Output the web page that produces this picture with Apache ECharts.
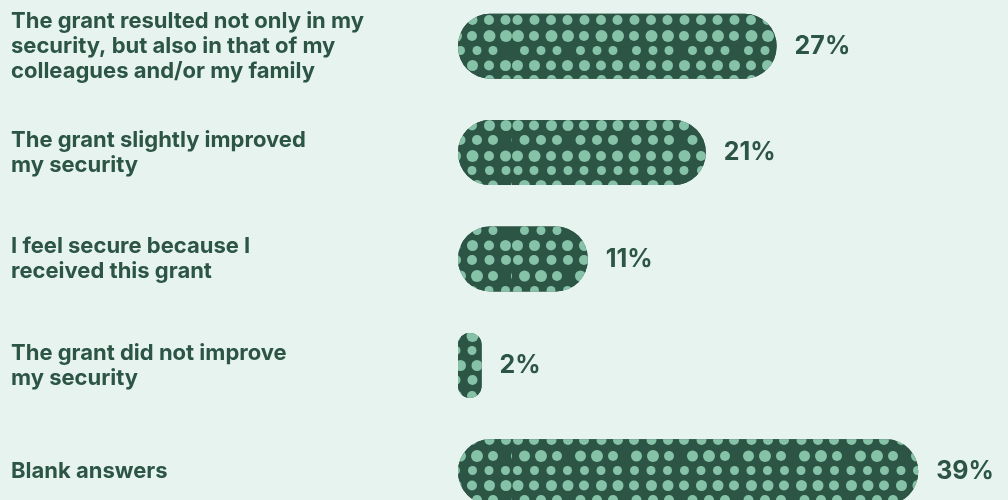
<!DOCTYPE html>
<html>
<head>
<meta charset="utf-8">
<script src="https://cdn.jsdelivr.net/npm/echarts@6/dist/echarts.min.js"></script>
<style>
  html, body { margin: 0; padding: 0; background: #e6f3ef; }
  #main { width: 1008px; height: 500px; }
</style>
</head>
<body>
<div id="main"></div>
<script>
const categories = [
  'The grant resulted not only in my\nsecurity, but also in that of my\ncolleagues and/or my family',
  'The grant slightly improved\nmy security',
  'I feel secure because I\nreceived this grant',
  'The grant did not improve\nmy security',
  'Blank answers'
];
const values = [27, 21, 11, 2, 39];

const dark = '#2c5545';
const dots = '#86c2a8';

const chart = echarts.init(document.getElementById('main'));

const option = {
  backgroundColor: '#e6f3ef',
  animation: false,
  grid: { left: 458, top: -7, width: 472, height: 532, outerBoundsMode: 'none', containLabel: false },
  xAxis: {
    type: 'value',
    min: 0,
    max: 40,
    show: false
  },
  yAxis: {
    type: 'category',
    data: categories,
    inverse: true,
    axisLine: { show: false },
    axisTick: { show: false },
    axisLabel: {
      align: 'left',
      margin: 447,
      color: dark,
      fontFamily: 'Inter',
      fontWeight: 'bold',
      fontSize: 22,
      lineHeight: 25
    }
  },
  series: [{
    type: 'bar',
    data: values,
    barWidth: 65,
    itemStyle: {
      color: dark,
      borderRadius: 32,
      decal: {
        symbol: 'circle',
        symbolSize: 1,
        color: dots,
        backgroundColor: dark,
        // uneven dash lengths give the dots a hand-drawn, irregular feel
        dashArrayX: [[12, 5, 10, 6, 13, 4], [0, 7, 11, 5, 12, 5, 10, 6], [11, 5, 13, 5, 10, 6]],
        dashArrayY: [11, 4, 10, 5, 12, 4, 9, 5]
      }
    },
    label: {
      show: true,
      position: 'right',
      distance: 18,
      formatter: '{c}%',
      color: dark,
      fontFamily: 'Inter',
      fontWeight: 'bold',
      fontSize: 25
    }
  }]
};

chart.setOption(option);
</script>
</body>
</html>
